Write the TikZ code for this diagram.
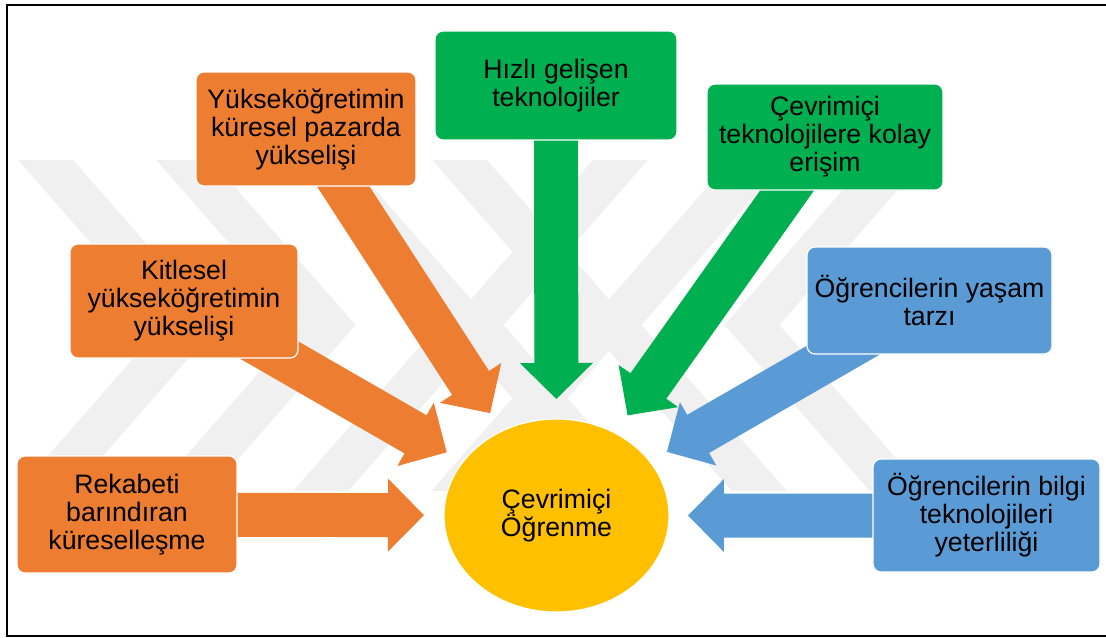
\documentclass[tikz,border=0pt]{standalone}
\usepackage{fontspec}
\setmainfont{Liberation Sans}
\usetikzlibrary{calc,shapes.geometric}
\definecolor{cOrange}{HTML}{ED7D31}
\definecolor{cGreen}{HTML}{00B050}
\definecolor{cBlue}{HTML}{5B9BD5}
\definecolor{cGold}{HTML}{FFC000}
\definecolor{cMark}{HTML}{F0F0F0}
\pgfdeclarelayer{mark}
\pgfdeclarelayer{arrows}
\pgfsetlayers{mark,arrows,main}

% block arrow from the centre of a box (#2) to a tip coordinate (#3)
\newcommand\factorarrow[3]{%
  \coordinate (fa-h) at ($(#3)!27pt!(#2)$);
  \fill[#1] ($(#2)!16.5pt!90:(#3)$) -- ($(fa-h)!16.5pt!90:(#3)$)
    -- ($(fa-h)!27.4pt!90:(#3)$) -- (#3) -- ($(fa-h)!27.4pt!-90:(#3)$)
    -- ($(fa-h)!16.5pt!-90:(#3)$) -- ($(#2)!16.5pt!-90:(#3)$) -- cycle;
}

\tikzset{
  factor/.style={rectangle, rounded corners=6pt, draw=white, line width=0.9pt,
    align=center, inner sep=0pt, text=black,
    font=\fontsize{20}{21}\selectfont},
  sz/.style 2 args={minimum width=#1*0.75pt, minimum height=#2*0.75pt},
  orangebox/.style={factor, fill=cOrange},
  greenbox/.style={factor, fill=cGreen},
  bluebox/.style={factor, fill=cBlue},
  centre/.style={ellipse, draw=white, line width=0.9pt, fill=cGold,
    align=center, inner sep=0pt, text=black,
    font=\fontsize{20}{21}\selectfont},
  frame/.style={draw=black, line width=1.5pt},
  chevron/.style={draw=cMark, line width=31pt, line join=miter, line cap=butt}
}

\begin{document}
\begin{tikzpicture}[x=0.75pt, y=-0.75pt]
\useasboundingbox (0,0) rectangle (1106,637);

% outer frame (open on the right)
\draw[frame] (1106,5) -- (7,5) -- (7,636) -- (1106,636);

% light background emblem: right-pointing and left-pointing chevrons
\begin{pgfonlayer}{mark}
  \begin{scope}
    \clip (9,160) rectangle (1100,490);
    \foreach \t in {45,183,321,459}
      \draw[chevron] (\t-30,125) -- (\t+145,325) -- (\t-30,525);
    \foreach \t in {621,759,897}
      \draw[chevron] (\t+30,125) -- (\t-145,325) -- (\t+30,525);
  \end{scope}
\end{pgfonlayer}

% central topic
\node[centre, sz={225}{193}] (ell) at (556.5,515.5) {Çevrimiçi\\Öğrenme};

% contributing factors
\node[orangebox, sz={220}{117}] (rek) at (127,514.5) {Rekabeti\\barındıran\\küreselleşme};
\node[orangebox, sz={228}{114}] (kit) at (184,301) {Kitlesel\\yükseköğretimin\\yükselişi};
\node[orangebox, sz={220}{114}] (yuk) at (306,129) {Yükseköğretimin\\küresel pazarda\\yükselişi};
\node[greenbox, sz={242}{109}] (hiz) at (556,85.5) {Hızlı  gelişen\\teknolojiler};
\node[greenbox, sz={236}{106}] (cev) at (825,137) {Çevrimiçi\\teknolojilere kolay\\erişim};
\node[bluebox, sz={245}{107}] (yas) at (929.5,300.5) {Öğrencilerin yaşam\\tarzı};
\node[bluebox, sz={227}{113}] (bil) at (986.5,515.5) {Öğrencilerin bilgi\\teknolojileri\\yeterliliği};

% arrow tips, on the line from the topic centre to each box
\coordinate (t-rek) at ($(ell)!99.4pt!(rek)$);
\coordinate (t-kit) at ($(ell)!95pt!(kit)$);
\coordinate (t-yuk) at ($(ell)!91.5pt!(yuk)$);
\coordinate (t-hiz) at ($(ell)!87.4pt!(hiz)$);
\coordinate (t-cev) at ($(ell)!92.1pt!(cev)$);
\coordinate (t-yas) at ($(ell)!95.6pt!(yas)$);
\coordinate (t-bil) at ($(ell)!98.6pt!(bil)$);

\begin{pgfonlayer}{arrows}
  \factorarrow{cOrange}{rek}{t-rek}
  \factorarrow{cOrange}{kit}{t-kit}
  \factorarrow{cOrange}{yuk}{t-yuk}
  \factorarrow{cGreen}{hiz}{t-hiz}
  \factorarrow{cGreen}{cev}{t-cev}
  \factorarrow{cBlue}{yas}{t-yas}
  \factorarrow{cBlue}{bil}{t-bil}
\end{pgfonlayer}
\end{tikzpicture}
\end{document}
